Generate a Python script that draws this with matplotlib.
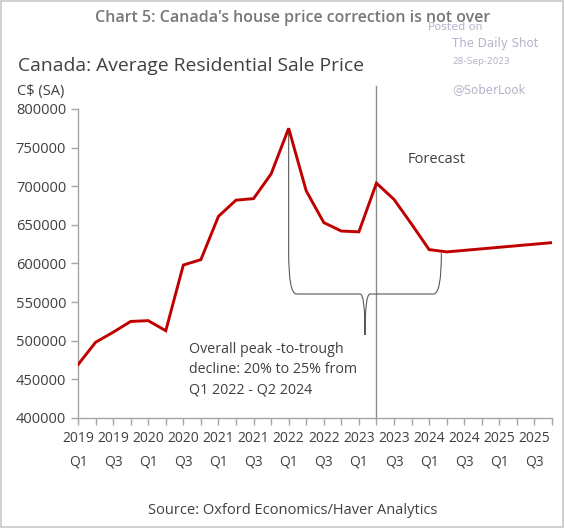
import matplotlib
matplotlib.use("Agg")
import matplotlib.pyplot as plt
from matplotlib.path import Path
from matplotlib.patches import PathPatch

plt.rcParams['font.family'] = ['Open Sans', 'DejaVu Sans']

years = ["2019", "2019", "2019", "2019", "2020", "2020", "2020", "2020",
         "2021", "2021", "2021", "2021", "2022", "2022", "2022", "2022",
         "2023", "2023", "2023", "2023", "2024", "2024", "2024", "2024",
         "2025", "2025", "2025", "2025"]
quarters = ["Q1", "Q2", "Q3", "Q4"] * 7
prices = [469000, 498000, 511000, 525000, 526000, 513000, 598000, 605000,
          661000, 682000, 684000, 716000, 775000, 694000, 653000, 642000,
          641000, 704000, 683000, 651000, 618000, 615000, 617000, 619000,
          621000, 623000, 625000, 627000]
yticks = [400000, 450000, 500000, 550000, 600000, 650000, 700000, 750000, 800000]

x = list(range(len(prices)))
fig = plt.figure(figsize=(5.64, 5.28), dpi=100)
ax = fig.add_axes([78/564, 1-418/528, (552-78)/564, (418-109)/528])

ax.plot(x, prices, color="#c00000", lw=2.1, solid_joinstyle="miter", zorder=3)
ax.set_xlim(0, len(prices) - 1)
ax.set_ylim(400000, 800000)
ax.set_yticks(yticks)
ax.set_yticklabels([str(v) for v in yticks])
ax.set_xticks(x)
ax.set_xticklabels([f"{years[i]}\n{quarters[i]}" if i % 2 == 0 else "" for i in x])

axc = "#a6a6a6"
for s in ["top", "right"]:
    ax.spines[s].set_visible(False)
for s in ["left", "bottom"]:
    ax.spines[s].set_color(axc)
    ax.spines[s].set_linewidth(1.0)
ax.tick_params(axis="both", colors=axc, labelcolor="#404040", labelsize=10.5,
               length=5, width=1.0, direction="out")
ax.tick_params(axis="x", pad=4, labelsize=10)
for lbl in ax.get_xticklabels():
    lbl.set_linespacing(1.85)

# forecast divider
ax.plot([17, 17], [400000, 830000], color="#8c8c8c", lw=1.0, clip_on=False, zorder=2)
ax.text(18.75, 734000, "Forecast", fontsize=10.5, color="#404040", va="center", ha="left")

# bracket annotation
top, mid, tip = 613500, 560500, 507500
verts = [(12, 775000), (12, top), (12, mid), (12.45, mid),
         (16.07, mid), (16.35, mid), (16.35, tip),
         (16.35, mid), (16.63, mid),
         (20.25, mid), (20.7, mid), (20.7, top)]
codes = [Path.MOVETO, Path.LINETO, Path.CURVE3, Path.CURVE3,
         Path.LINETO, Path.CURVE3, Path.CURVE3,
         Path.CURVE3, Path.CURVE3,
         Path.LINETO, Path.CURVE3, Path.CURVE3]
ax.add_patch(PathPatch(Path(verts, codes), facecolor="none", edgecolor="#595959", lw=0.8, zorder=2))

ax.text(6.35, 499000, "Overall peak -to-trough\ndecline: 20% to 25% from\nQ1 2022 - Q2 2024",
        fontsize=10.3, color="#404040", va="top", ha="left", linespacing=1.5)

# titles and texts
fig.text(293/564, 1-18/528, "Chart 5: Canada's house price correction is not over",
         fontsize=11.5, fontweight="semibold", color="#7a7676", ha="center", va="center")
fig.text(18/564, 1-66/528, "Canada: Average Residential Sale Price",
         fontsize=13.9, color="#404040", ha="left", va="center")
fig.text(17/564, 1-91/528, "C$ (SA)", fontsize=10.5, color="#404040", ha="left", va="center")
fig.text(293/564, 1-511/528, "Source: Oxford Economics/Haver Analytics",
         fontsize=10.5, color="#404040", ha="center", va="center")

wm = "#b4b4cc"
fig.text(428/564, 1-27/528, "Posted on", fontsize=8, color=wm, ha="left", va="center",
         family="DejaVu Sans", zorder=0)
fig.text(452/564, 1-43/528, "The Daily Shot", fontsize=8.5, color=wm, ha="left", va="center",
         family="DejaVu Sans")
fig.text(452/564, 1-61/528, "28-Sep-2023", fontsize=6.5, color=wm, ha="left", va="center",
         family="DejaVu Sans")
fig.text(452/564, 1-90/528, "@SoberLook", fontsize=8.5, color=wm, ha="left", va="center",
         family="DejaVu Sans")

# frame
fig.patches.append(plt.Rectangle((0.001, 0.001), 0.998, 0.998, transform=fig.transFigure,
                                 fill=False, edgecolor="#c8c8c8", lw=1.2))

fig.savefig("out.png", dpi=100)
